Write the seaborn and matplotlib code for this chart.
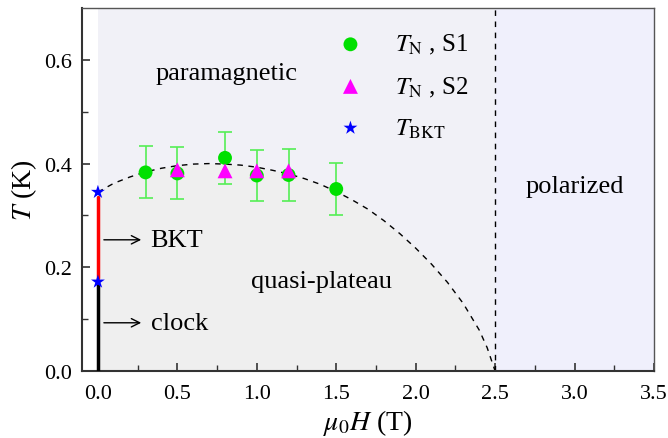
import matplotlib
matplotlib.use('Agg')
import matplotlib.pyplot as plt
import numpy as np
import pandas as pd
import seaborn as sns

# data
s1_field = [0.3, 0.5, 0.8, 1.0, 1.2, 1.5]
s1_tn = [0.383, 0.381, 0.411, 0.377, 0.378, 0.351]
s1_err = [0.05, 0.05, 0.05, 0.05, 0.05, 0.05]

s2_field = [0.5, 0.8, 1.0, 1.2]
s2_tn = [0.388, 0.386, 0.386, 0.386]

bkt_field = [0.0, 0.0]
bkt_t = [0.345, 0.172]

# guide-to-the-eye phase boundary
dome_field = [0.0, 0.1, 0.2, 0.3, 0.4, 0.5, 0.6, 0.7, 0.8, 0.9, 1.0, 1.1, 1.2,
              1.3, 1.4, 1.5, 1.6, 1.7, 1.8, 1.9, 2.0, 2.1, 2.2, 2.3, 2.4, 2.45, 2.5]
dome_t = [0.345, 0.362, 0.374, 0.384, 0.391, 0.396, 0.399, 0.400, 0.399, 0.397,
          0.393, 0.387, 0.380, 0.371, 0.360, 0.346, 0.330, 0.312, 0.290, 0.265,
          0.237, 0.206, 0.171, 0.130, 0.079, 0.045, 0.0]

h_sat = 2.5

sns.set_style('ticks')
plt.rcParams['font.family'] = ['Liberation Serif', 'DejaVu Serif']
plt.rcParams['mathtext.fontset'] = 'stix'
plt.rcParams['font.size'] = 15
for key in ['text.color', 'axes.labelcolor', 'xtick.labelcolor', 'ytick.labelcolor']:
    plt.rcParams[key] = 'black'

fig = plt.figure(figsize=(6.68, 4.39), dpi=100)
ax = fig.add_axes([0.1228, 0.1526, 0.8562, 0.8269])

# shaded phase regions
ax.axvspan(0, h_sat, color='#f1f1f7', zorder=0, lw=0)
ax.fill_between(dome_field, 0, dome_t, color='#efefef', zorder=0.5, lw=0)
ax.axvspan(h_sat, 3.5, color='#f0f0fc', zorder=0, lw=0)

sns.lineplot(x=dome_field, y=dome_t, ax=ax, color='black', lw=1.0,
             linestyle=(0, (4, 4)), zorder=2)
ax.axvline(h_sat, color='black', lw=1.0, linestyle=(0, (4, 4)), zorder=2)

# BKT / clock lines at zero field
ax.plot([0, 0], [0.18, 0.335], color='red', lw=2.5, zorder=3)
ax.plot([0, 0], [0, 0.165], color='black', lw=2.5, zorder=3)

ax.errorbar(s1_field, s1_tn, yerr=s1_err, fmt='none', ecolor='#55ee55',
            elinewidth=1.2, capsize=5, capthick=1.2, zorder=3)
sns.scatterplot(x=s1_field, y=s1_tn, ax=ax, marker='o', color='#00e000',
                s=100, edgecolor='none', zorder=4, label=r'$T_{\rm N}$ , S1')
sns.scatterplot(x=s2_field, y=s2_tn, ax=ax, marker='^', color='#ff00ff',
                s=115, edgecolor='none', zorder=5, label=r'$T_{\rm N}$ , S2')
sns.scatterplot(x=bkt_field, y=bkt_t, ax=ax, marker='*', color='#0000ff',
                s=110, edgecolor='none', zorder=6, label=r'$T_{\rm BKT}$',
                clip_on=False)

ax.annotate('', xy=(0.29, 0.253), xytext=(0.02, 0.253),
            arrowprops=dict(arrowstyle='->', color='black', lw=1))
ax.annotate('', xy=(0.29, 0.093), xytext=(0.02, 0.093),
            arrowprops=dict(arrowstyle='->', color='black', lw=1))
ax.text(0.33, 0.253, 'BKT', fontsize=19, va='center', ha='left')
ax.text(0.335, 0.093, 'clock', fontsize=19, va='center', ha='left')
ax.text(0.81, 0.575, 'paramagnetic', fontsize=19, ha='center', va='center')
ax.text(1.41, 0.173, 'quasi-plateau', fontsize=19, ha='center', va='center')
ax.text(3.0, 0.357, 'polarized', fontsize=19, ha='center', va='center')

ax.legend(loc='upper left', bbox_to_anchor=(0.395, 0.995), frameon=False,
          fontsize=18, labelspacing=0.72, handletextpad=1.0,
          handlelength=1.6, markerscale=1.0)

ax.set_xlim(-0.1, 3.5)
ax.set_ylim(0, 0.7)
ax.set_xticks(np.arange(0, 3.51, 0.5))
ax.set_yticks([0.0, 0.2, 0.4, 0.6])
ax.set_xticks(np.arange(0.25, 3.5, 0.5), minor=True)
ax.set_yticks([0.1, 0.3, 0.5], minor=True)
ax.xaxis.set_major_formatter(matplotlib.ticker.FormatStrFormatter('%.1f'))
ax.yaxis.set_major_formatter(matplotlib.ticker.FormatStrFormatter('%.1f'))
ax.tick_params(which='both', direction='in', top=False, right=False,
               labelsize=16, color='#333333')
ax.tick_params(which='major', length=6, width=1.2)
ax.tick_params(axis='x', which='major', pad=9)
ax.tick_params(axis='y', which='major', pad=7)
ax.tick_params(which='minor', length=4, width=1.0)

for side in ['left', 'bottom']:
    ax.spines[side].set_linewidth(1.5)
    ax.spines[side].set_color('#333333')
for side in ['top', 'right']:
    ax.spines[side].set_linewidth(1.0)
    ax.spines[side].set_color('#555555')

ax.set_xlabel(r'$\mu_0H$ (T)', fontsize=20, labelpad=3)
ax.set_ylabel(r'$T$ (K)', fontsize=20, labelpad=4)

fig.savefig('out.png', dpi=100)
